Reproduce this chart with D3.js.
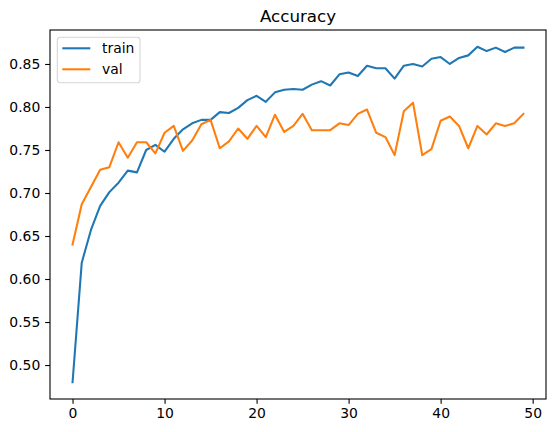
<!DOCTYPE html>
<html>
<head>
<meta charset="utf-8">
<script src="https://cdn.jsdelivr.net/npm/d3@7"></script>
<style>
  body { margin: 0; background: #fff; }
  text { font-family: "DejaVu Sans", sans-serif; fill: #000; }
</style>
</head>
<body>
<div id="vis"></div>
<script>
  // accuracy per epoch
  let epochs = d3.range(50)
  let trainAcc = [0.480, 0.619, 0.657, 0.685, 0.701, 0.712, 0.726, 0.724, 0.750, 0.756,
                  0.748, 0.763, 0.774, 0.781, 0.785, 0.785, 0.794, 0.793, 0.799, 0.808,
                  0.813, 0.806, 0.817, 0.820, 0.821, 0.820, 0.826, 0.830, 0.825, 0.838,
                  0.840, 0.836, 0.848, 0.845, 0.845, 0.833, 0.848, 0.850, 0.847, 0.856,
                  0.858, 0.850, 0.857, 0.860, 0.870, 0.865, 0.869, 0.864, 0.869, 0.869]
  let valAcc = [0.640, 0.687, 0.707, 0.727, 0.730, 0.759, 0.741, 0.759, 0.759, 0.746,
                0.770, 0.778, 0.749, 0.761, 0.780, 0.785, 0.752, 0.760, 0.775, 0.763,
                0.778, 0.765, 0.791, 0.771, 0.778, 0.792, 0.773, 0.773, 0.773, 0.781,
                0.779, 0.792, 0.797, 0.770, 0.765, 0.744, 0.795, 0.805, 0.744, 0.751,
                0.784, 0.789, 0.778, 0.752, 0.778, 0.768, 0.781, 0.778, 0.781, 0.792]
  let seriesNames = ['train', 'val']
  let seriesColors = ['#1f77b4', '#ff7f0e']
  let xTicks = [0, 10, 20, 30, 40, 50]
  let yTicks = [0.50, 0.55, 0.60, 0.65, 0.70, 0.75, 0.80, 0.85]

  let margin = {top: 30, right: 10, bottom: 33, left: 50},
      width = 556 - margin.left - margin.right,
      height = 432 - margin.top - margin.bottom

  let svg = d3.select("#vis")
    .append("svg")
    .attr("width", width + margin.left + margin.right)
    .attr("height", height + margin.top + margin.bottom)
    .append("g")
    .attr("transform", `translate(${margin.left},${margin.top})`)

  // matplotlib style 5% margins
  let xExt = d3.extent(epochs)
  let xPad = (xExt[1] - xExt[0]) * 0.05
  let allVals = trainAcc.concat(valAcc)
  let yExt = d3.extent(allVals)
  let yPad = (yExt[1] - yExt[0]) * 0.05

  let xScale = d3.scaleLinear()
    .domain([xExt[0] - xPad, xExt[1] + xPad])
    .range([0, width])

  let yScale = d3.scaleLinear()
    .domain([yExt[0] - yPad, yExt[1] + yPad])
    .range([height, 0])

  let tick = 4.86

  let xAxis = svg.append("g")
    .attr("transform", `translate(0,${height})`)
    .call(d3.axisBottom(xScale).tickValues(xTicks).tickSize(tick).tickPadding(4.2).tickSizeOuter(0))
  let yAxis = svg.append("g")
    .call(d3.axisLeft(yScale).tickValues(yTicks).tickFormat(d3.format('.2f')).tickSize(tick).tickPadding(4.86).tickSizeOuter(0))

  ;[xAxis, yAxis].forEach(ax => {
    ax.select('.domain').remove()
    ax.selectAll('.tick line').attr('stroke', '#000').attr('stroke-width', 1.1)
    ax.selectAll('.tick text')
      .attr('font-family', '"DejaVu Sans", sans-serif')
      .attr('font-size', '13.9px')
      .attr('fill', '#000')
  })

  let line = d3.line()
    .x((d, i) => xScale(epochs[i]))
    .y(d => yScale(d))

  svg.selectAll('.series')
    .data([trainAcc, valAcc])
    .join('path')
    .attr('class', 'series')
    .attr('d', line)
    .attr('fill', 'none')
    .attr('stroke', (d, i) => seriesColors[i])
    .attr('stroke-width', 2.08)
    .attr('stroke-linejoin', 'round')
    .attr('stroke-linecap', 'square')

  // spines
  svg.append('rect')
    .attr('width', width)
    .attr('height', height)
    .attr('fill', 'none')
    .attr('stroke', '#000')
    .attr('stroke-width', 1.1)

  svg.append('text')
    .attr('x', width / 2)
    .attr('y', -8.3)
    .attr('text-anchor', 'middle')
    .attr('font-size', '16.7px')
    .text('Accuracy')

  // legend
  let legend = svg.append('g')
    .attr('transform', 'translate(7.3,7.3)')

  legend.append('rect')
    .attr('width', 82.7)
    .attr('height', 45.4)
    .attr('rx', 2.8)
    .attr('fill', 'rgba(255,255,255,0.8)')
    .attr('stroke', '#d5d5d5')
    .attr('stroke-width', 1.1)

  let items = legend.selectAll('.item')
    .data(seriesNames)
    .join('g')
    .attr('class', 'item')
    .attr('transform', (d, i) => `translate(0,${11 + i * 21})`)

  items.append('line')
    .attr('x1', 5)
    .attr('x2', 33)
    .attr('stroke', (d, i) => seriesColors[i])
    .attr('stroke-width', 2.08)

  items.append('text')
    .attr('x', 44.7)
    .attr('dy', '0.35em')
    .attr('font-size', '13.9px')
    .text(d => d)
</script>
</body>
</html>
